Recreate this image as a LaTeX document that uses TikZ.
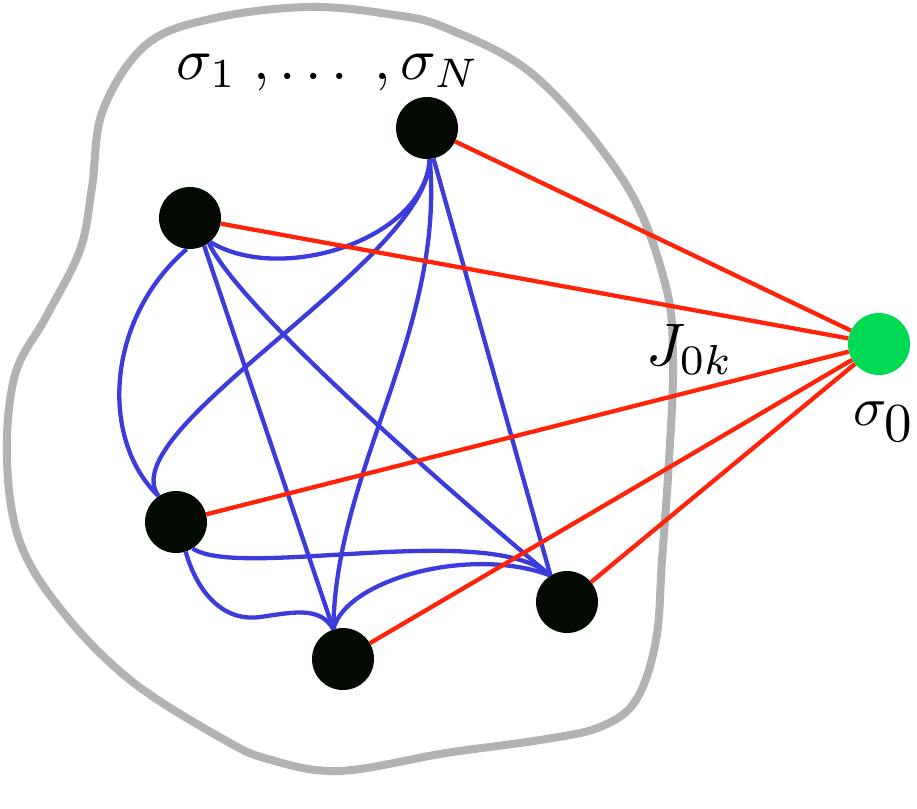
\documentclass[tikz,border=0pt]{standalone}
\definecolor{nodeblack}{RGB}{2,10,2}
\definecolor{sgreen}{RGB}{0,217,84}
\definecolor{eblue}{RGB}{60,60,220}
\definecolor{ered}{RGB}{255,35,10}
\definecolor{blobgray}{RGB}{178,178,178}
\tikzset{
  spin/.style={circle, fill=nodeblack, minimum size=62pt, inner sep=0pt},
  spinzero/.style={circle, fill=sgreen, minimum size=62pt, inner sep=0pt},
  jblue/.style={draw=eblue, line width=4.3pt},
  jred/.style={draw=ered, line width=4.3pt},
  blob/.style={draw=blobgray, line width=8pt},
  lbl/.style={inner sep=0pt, anchor=base},
}
\begin{document}
\begin{tikzpicture}[x=1pt,y=-1pt]
\useasboundingbox (0,0) rectangle (917,808);
% enclosing region
\draw[blob] plot[smooth cycle, tension=0.6] coordinates {
 (308,7) (388,14) (446,28) (536,77) (625,183) (665,283) (673,360) (669,460)
 (662,560) (656,640) (636,700) (600,727) (540,740) (446,753) (339,771)
 (268,759) (223,739) (134,683) (67,617) (21,545) (7,460)
 (15,375) (46,317) (80,250) (92,187) (103,110) (147,44) (215,18)};
% spins
\node[spin] (A) at (427,128) {};
\node[spin] (B) at (190,218) {};
\node[spin] (C) at (176,522) {};
\node[spin] (D) at (343,659) {};
\node[spin] (E) at (567,602) {};
\node[spinzero] (G) at (879,344) {};
% blue couplings
\draw[jblue] (A.-85) .. controls (425,240) and (280,285) .. (B.-50);
\draw[jblue] (A.-85) .. controls (430,260) and (110,430) .. (C.124);
\draw[jblue] (A.-85) .. controls (445,330) and (335,470) .. (D.108);
\draw[jblue] (A.-78) -- (E.122);
\draw[jblue] (B.-96) .. controls (105,320) and (100,440) .. (C.124);
\draw[jblue] (B.-63) -- (D.108);
\draw[jblue] (B.-53) .. controls (240,310) and (460,500) .. (E.122);
\draw[jblue] (C.-72) .. controls (198,595) and (225,622) .. (260,617)
                     .. controls (290,613) and (320,605) .. (D.108);
\draw[jblue] (C.-58) .. controls (240,580) and (490,520) .. (E.122);
\draw[jblue] (D.108) .. controls (345,580) and (470,545) .. (E.122);
% red couplings to sigma_0
\draw[jred] (A) -- (G);
\draw[jred] (B) -- (G);
\draw[jred] (C) -- (G);
\draw[jred] (D) -- (G);
\draw[jred] (E) -- (G);
% labels
\node[lbl, scale=5.9] (lN) at (328,79) {$\sigma_1\;,\ldots\;,\sigma_N$};
\node[lbl, scale=6.0] (lJ) at (690,365) {$J_{0k}$};
\node[lbl, scale=5.5] (l0) at (884,425) {$\sigma_{\textstyle 0}$};
\end{tikzpicture}
\end{document}
